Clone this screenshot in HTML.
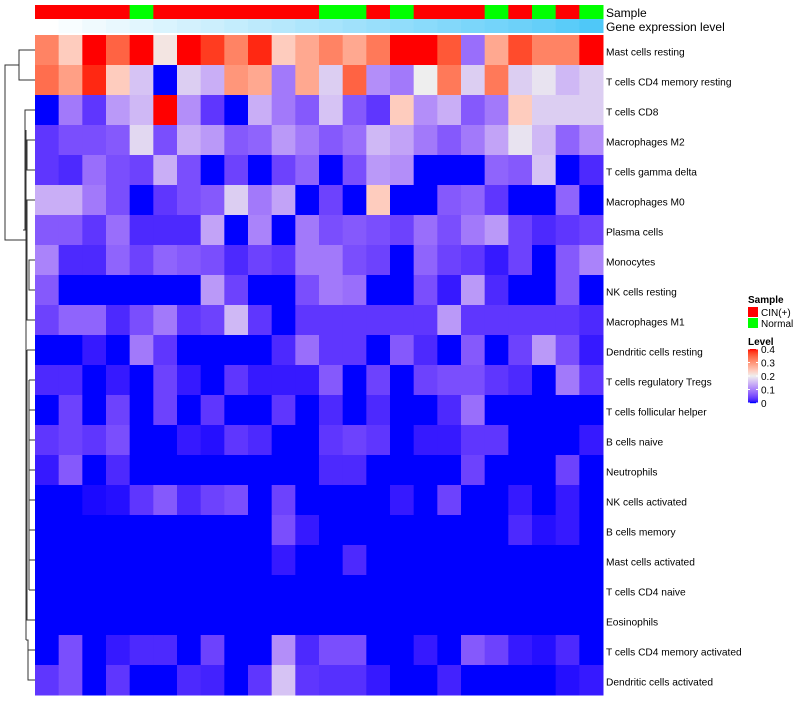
<!DOCTYPE html>
<html><head><meta charset="utf-8"><style>
body{margin:0;background:#fff;width:800px;height:700px;overflow:hidden;font-family:"Liberation Sans",sans-serif}
svg text{font-family:"Liberation Sans",sans-serif}
</style></head><body>
<svg id="chart" width="800" height="700"></svg>
<script>
const rowNames=["Mast cells resting","T cells CD4 memory resting","T cells CD8","Macrophages M2","T cells gamma delta","Macrophages M0","Plasma cells","Monocytes","NK cells resting","Macrophages M1","Dendritic cells resting","T cells regulatory  Tregs","T cells follicular helper","B cells naive","Neutrophils","NK cells activated","B cells memory","Mast cells activated","T cells CD4 naive","Eosinophils","T cells CD4 memory activated","Dendritic cells activated"];
const sampleGroups=["CIN","CIN","CIN","CIN","Normal","CIN","CIN","CIN","CIN","CIN","CIN","CIN","Normal","Normal","CIN","Normal","CIN","CIN","CIN","Normal","CIN","Normal","CIN","Normal"];
const geneLevel=[0,0.04,0.08,0.12,0.16,0.2,0.24,0.28,0.32,0.36,0.4,0.44,0.48,0.52,0.56,0.6,0.64,0.68,0.72,0.76,0.8,0.84,0.9,0.96];
const values=[
[0.32,0.24,0.40,0.35,0.40,0.21,0.40,0.38,0.32,0.39,0.24,0.28,0.32,0.28,0.33,0.40,0.40,0.36,0.08,0.28,0.37,0.32,0.32,0.40],
[0.34,0.29,0.39,0.24,0.16,0,0.17,0.14,0.30,0.28,0.09,0.28,0.17,0.35,0.11,0.09,0.20,0.33,0.17,0.33,0.17,0.19,0.15,0.17],
[0,0.09,0.03,0.12,0.15,0.40,0.11,0.03,0,0.14,0.09,0.06,0.16,0.06,0.03,0.24,0.11,0.14,0.06,0.09,0.24,0.17,0.17,0.17],
[0.03,0.05,0.05,0.06,0.18,0.05,0.14,0.12,0.06,0.07,0.12,0.09,0.06,0.08,0.15,0.13,0.09,0.06,0.09,0.13,0.19,0.15,0.07,0.11],
[0.03,0.02,0.08,0.05,0.04,0.14,0.05,0,0.04,0,0.04,0.07,0,0.05,0.12,0.11,0,0,0,0.07,0.06,0.16,0,0.02],
[0.14,0.14,0.09,0.05,0,0.03,0.05,0.06,0.17,0.09,0.13,0,0.04,0,0.24,0,0,0.06,0.07,0.03,0,0,0.07,0],
[0.06,0.06,0.03,0.08,0.02,0.02,0.02,0.13,0,0.10,0,0.09,0.05,0.06,0.05,0.04,0.08,0.05,0.09,0.12,0.04,0.02,0.03,0.04],
[0.10,0.02,0.02,0.07,0.04,0.07,0.06,0.05,0.02,0.04,0.03,0.09,0.09,0.05,0.04,0,0.07,0.04,0.03,0.01,0.04,0,0.06,0.10],
[0.06,0,0,0,0,0,0,0.12,0.04,0,0,0.05,0.09,0.08,0,0,0.05,0.01,0.12,0.02,0,0,0.06,0],
[0.04,0.07,0.07,0.02,0.05,0.09,0.03,0.04,0.15,0.03,0,0.03,0.03,0.03,0.03,0.03,0.03,0.12,0.03,0.03,0.03,0.03,0.03,0.02],
[0,0,0.01,0,0.09,0.03,0,0,0,0,0.02,0.08,0.03,0.03,0,0.06,0.02,0,0.06,0,0.04,0.12,0.05,0.01],
[0.02,0.02,0,0.01,0,0.04,0.01,0,0.03,0.01,0.01,0.01,0.06,0,0.04,0,0.04,0.05,0.05,0.03,0.02,0,0.09,0.03],
[0,0.04,0,0.04,0,0.04,0,0.03,0,0,0.03,0,0.02,0,0.02,0,0,0.02,0.08,0,0,0,0,0],
[0.03,0.04,0.03,0.05,0,0,0.01,0.005,0.03,0.02,0,0,0.03,0.04,0.03,0,0.01,0.01,0.03,0.03,0,0,0,0.01],
[0.01,0.06,0,0.02,0,0,0,0,0,0,0,0,0.02,0.02,0,0,0,0,0.04,0,0,0,0.04,0],
[0,0,0.003,0.005,0.03,0.06,0.02,0.04,0.05,0,0.04,0,0,0,0,0.01,0,0.04,0,0,0.01,0,0.01,0],
[0,0,0,0,0,0,0,0,0,0,0.05,0.01,0,0,0,0,0,0,0,0,0.02,0.005,0.01,0],
[0,0,0,0,0,0,0,0,0,0,0.01,0,0,0.02,0,0,0,0,0,0,0,0,0,0],
[0,0,0,0,0,0,0,0,0,0,0,0,0,0,0,0,0,0,0,0,0,0,0,0],
[0,0,0,0,0,0,0,0,0,0,0,0,0,0,0,0,0,0,0,0,0,0,0,0],
[0,0.05,0,0.01,0.02,0.02,0,0.04,0,0,0.11,0.02,0.05,0.05,0,0,0.01,0,0.06,0.04,0.01,0.005,0.02,0],
[0.03,0.05,0,0.03,0,0,0.02,0.015,0,0.03,0.16,0.03,0.025,0.025,0.01,0,0,0.015,0,0,0,0,0.005,0.01]
];
const legendTicks=["0.4","0.3","0.2","0.1","0"];

const NS="http://www.w3.org/2000/svg";
const svg=document.getElementById("chart");
function el(t,a,p){const e=document.createElementNS(NS,t);for(const k in a)e.setAttribute(k,a[k]);(p||svg).appendChild(e);return e;}
function toLab(r,g,b){const f=c=>{c/=255;return c>0.04045?Math.pow((c+0.055)/1.055,2.4):c/12.92};r=f(r);g=f(g);b=f(b);
let x=(r*0.4124+g*0.3576+b*0.1805)/0.95047,y=(r*0.2126+g*0.7152+b*0.0722),z=(r*0.0193+g*0.1192+b*0.9505)/1.08883;
const h=t=>t>0.008856?Math.cbrt(t):7.787*t+16/116;x=h(x);y=h(y);z=h(z);return [116*y-16,500*(x-y),200*(y-z)];}
function fromLab(L,a,bb){let y=(L+16)/116,x=a/500+y,z=y-bb/200;const h=t=>t*t*t>0.008856?t*t*t:(t-16/116)/7.787;
x=h(x)*0.95047;y=h(y);z=h(z)*1.08883;let r=x*3.2406+y*-1.5372+z*-0.4986,g=x*-0.9689+y*1.8758+z*0.0415,b=x*0.0557+y*-0.2040+z*1.0570;
const f=c=>{c=c>0.0031308?1.055*Math.pow(c,1/2.4)-0.055:12.92*c;return Math.max(0,Math.min(255,Math.round(c*255)))};return `rgb(${f(r)},${f(g)},${f(b)})`;}
const cB=toLab(0,0,255),cW=toLab(238,238,238),cR=toLab(255,0,0);
function color(v){v=Math.max(0,Math.min(0.4,v));let a,b,t;if(v<=0.2){a=cB;b=cW;t=v/0.2}else{a=cW;b=cR;t=(v-0.2)/0.2}
return fromLab(a[0]+(b[0]-a[0])*t,a[1]+(b[1]-a[1])*t,a[2]+(b[2]-a[2])*t);}
const X0=35,X1=603,Y0=35,RH=30,nC=values[0].length,CW=(X1-X0)/nC;
const xPos=j=>X0+j*CW, yPos=i=>Y0+i*RH;
sampleGroups.forEach((g,j)=>{const r=el("rect",{x:xPos(j),y:5,width:CW+0.5,height:14,fill:g==="CIN"?"#ff0000":"#00ff00"});

});
geneLevel.forEach((v,j)=>{const c=[255+(72-255)*v,255+(198-255)*v,255+(248-255)*v].map(Math.round);
const r=el("rect",{x:xPos(j),y:19,width:CW+0.5,height:14,fill:`rgb(${c})`});

});
let t=el("text",{x:606,y:17,"font-size":12});t.textContent="Sample";
t=el("text",{x:606,y:31,"font-size":12});t.textContent="Gene expression level";
values.forEach((row,i)=>{row.forEach((v,j)=>{const r=el("rect",{x:xPos(j),y:yPos(i),width:CW+0.5,height:RH+0.5,fill:color(v)});

});
const l=el("text",{x:606,y:yPos(i)+RH/2+5.5,"font-size":10.2,fill:"#000"});l.textContent=rowNames[i];

});
const dg=el("g",{stroke:"#333","stroke-width":1,fill:"none"});
const mid=i=>Y0+i*RH+RH/2;
function seg(d){el("path",{d},dg);}
seg(`M35 ${mid(0)}H19V${mid(1)}H35`);
seg(`M19 ${(mid(0)+mid(1))/2}H5V240H26`);
seg(`M26 130V${mid(21)-40}`);
seg(`M35 ${mid(2)}H25V${mid(6)}H23`);
seg(`M35 ${mid(3)}H27V${mid(4)}H35`);
seg(`M25 ${(mid(3)+mid(4))/2}H27`);
seg(`M35 ${mid(5)}H27V${mid(9)}H35`);
seg(`M35 ${mid(7)}H29V${mid(8)}H35`);
seg(`M26 ${mid(21)-40}H28V${mid(21)}H35`);
seg(`M35 ${mid(20)}H28`);
seg(`M27 ${mid(10)}H35M27 ${mid(10)}V${mid(19)}H35`);
for(let i=11;i<19;i++)seg(`M29 ${mid(i)}H35`);
seg(`M29 ${mid(11)}V${mid(18)}`);
t=el("text",{x:748,y:303,"font-size":10,"font-weight":"bold"});t.textContent="Sample";
let r=el("rect",{x:748,y:307,width:10,height:10,fill:"#ff0000"});
t=el("text",{x:761,y:316,"font-size":10});t.textContent="CIN(+)";
r=el("rect",{x:748,y:318,width:10,height:10,fill:"#00ff00"});
t=el("text",{x:761,y:327,"font-size":10});t.textContent="Normal";
t=el("text",{x:748,y:345,"font-size":10,"font-weight":"bold"});t.textContent="Level";
const cbTop=349,cbH=54;
for(let k=0;k<cbH;k++){const rr=el("rect",{x:748,y:cbTop+k,width:10,height:1.2,fill:color(0.4*(1-k/(cbH-1)))});}
legendTicks.forEach((s,k)=>{const yy=cbTop+k*(cbH/4);el("line",{x1:748,x2:750,y1:yy,y2:yy,stroke:"#fff"});el("line",{x1:756,x2:758,y1:yy,y2:yy,stroke:"#fff"});
const tt=el("text",{x:761,y:yy+4,"font-size":10});tt.textContent=s;

});
</script>
</body></html>
